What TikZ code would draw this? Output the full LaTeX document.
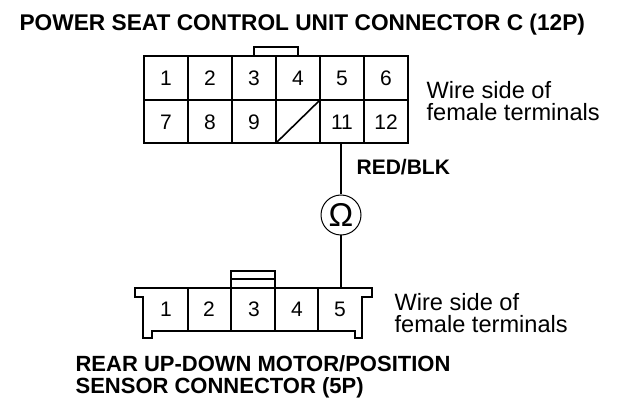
\documentclass[tikz,border=0pt]{standalone}
\usepackage{fontspec}
\setmainfont{Liberation Sans}
\tikzset{
    cell/.style={minimum width=1.16cm,minimum height=1.15cm,inner sep=0pt,font=\fontsize{21}{21}\selectfont},
    note/.style={align=left,anchor=west,inner sep=0pt,font=\fontsize{23.6}{22}\selectfont},
    heading/.style={align=left,anchor=west,inner sep=0pt,font=\fontsize{22.7}{19}\selectfont\bfseries},
    subheading/.style={heading,font=\fontsize{22}{21.5}\selectfont\bfseries}
}
\begin{document}
\begin{tikzpicture}[x=1pt,y=-1pt,line width=1.2pt]
    \useasboundingbox (0,0) rectangle (624,406);
    % upper connector
    \draw[line width=1.8pt] (144,56) rectangle (408,143);
    \draw[line width=1.8pt] (254,56) |- (298,47) -- (298,56);
    \draw (144,100) -- (408,100);
    \foreach \px in {188,232,276,320,364} \draw (\px,56) -- (\px,143);
    \foreach \n/\px in {1/166,2/210,3/254,4/298,5/342,6/386} \node[cell] (u\n) at (\px,78) {\n};
    \foreach \n/\px in {7/166,8/210,9/254,11/342,12/386} \node[cell] (u\n) at (\px,122) {\n};
    \coordinate (blankA) at (276,143);
    \coordinate (blankB) at (320,100);
    \draw[line width=1.6pt] (blankA) -- (blankB);
    % meter
    \node[circle,draw,line width=1pt,minimum size=40pt,inner sep=0pt,font=\fontsize{33}{33}\selectfont] (ohm) at (341,215) {};
    \node[inner sep=0pt,font=\fontsize{33}{33}\selectfont] (ohmtext) at (ohm.center) {Ω};
    \coordinate (wireTop) at (341,143);
    \coordinate (wireEnd) at (341,288);
    \draw (wireTop) -- (ohm);
    \draw (ohm) -- (wireEnd);
    % lower connector
    \draw[line width=1.8pt] (135,288) -- (372,288) -- (372,297) -- (362,297) -- (362,338) -- (355,338) -- (355,331)
        -- (152,331) -- (152,338) -- (143,338) -- (143,297) -- (135,297) -- cycle;
    \draw[line width=1.8pt] (231,331) -- (231,271) -- (275,271) -- (275,331);
    \draw (231,279) -- (275,279);
    \foreach \px in {188,318} \draw (\px,288) -- (\px,331);
    \foreach \n/\px in {1/166,2/209,3/254,4/297,5/340} \node[cell] (l\n) at (\px,309) {\n};
    % labels
    \node[heading] (titleU) at (19,25) {POWER SEAT CONTROL UNIT CONNECTOR C (12P)};
    \node[note] (noteU) at (426,101) {Wire side of\\female terminals};
    \node[heading,font=\fontsize{21}{21}\selectfont\bfseries] (wire) at (356,167) {RED/BLK};
    \node[note] (noteL) at (394,313) {Wire side of\\female terminals};
    \node[subheading] (titleL) at (75,377) {REAR UP-DOWN MOTOR/POSITION\\SENSOR CONNECTOR (5P)};
\end{tikzpicture}
\end{document}
